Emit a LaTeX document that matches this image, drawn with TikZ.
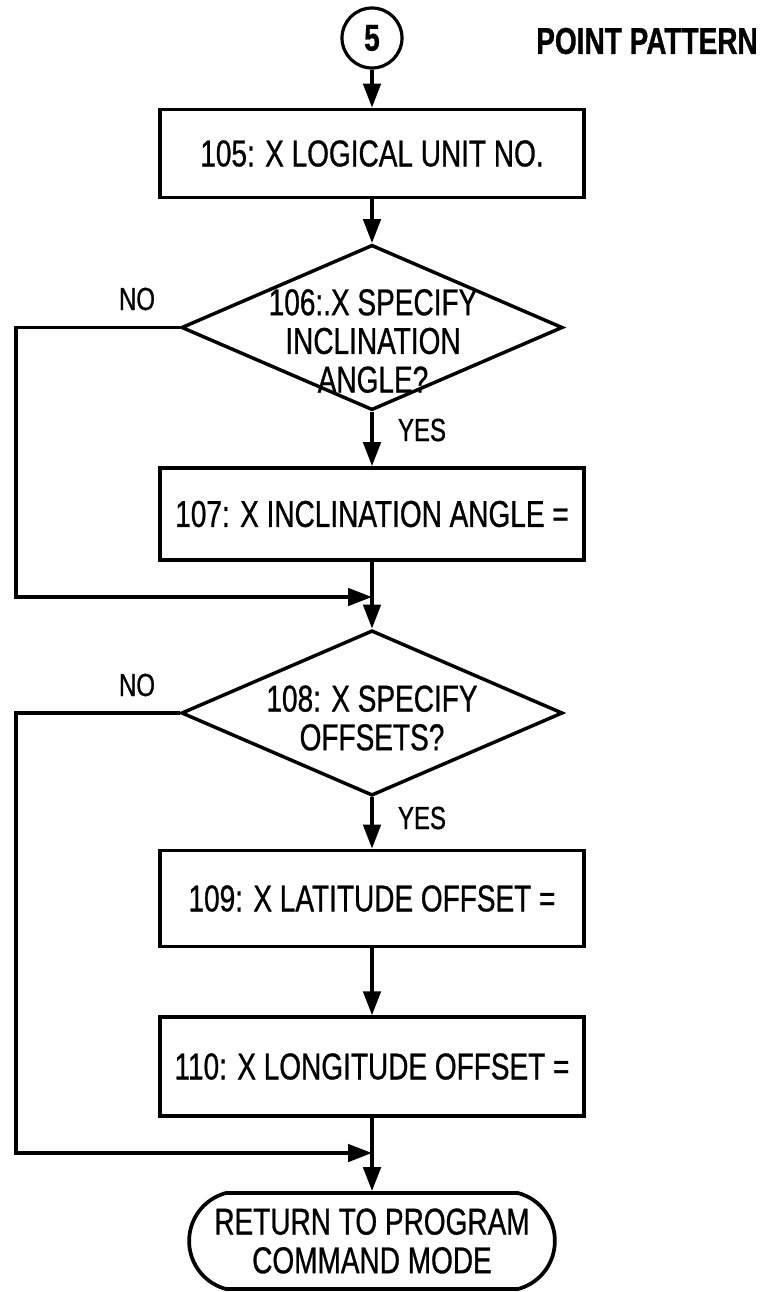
\documentclass[tikz,border=0pt]{standalone}
\usepackage{fontspec}
\setmainfont{Liberation Sans}[FakeStretch=0.75, FakeBold=0.8]
\usetikzlibrary{arrows.meta,shapes.geometric,shapes.misc}

\tikzset{
  every node/.style={font=\fontsize{28}{29}\selectfont},
  process/.style={draw, rectangle, line width=2.8pt, minimum width=318pt, minimum height=66pt, inner sep=0pt},
  decision/.style={draw, diamond, line width=2.6pt, minimum width=286pt, minimum height=124pt, inner sep=0pt},
  terminal/.style={draw, rounded rectangle, rounded rectangle arc length=150, line width=2.8pt, minimum width=281pt, minimum height=72pt, align=center},
  connector/.style={draw, circle, line width=2.4pt, minimum size=45pt, inner sep=0pt, font=\fontsize{28}{29}\selectfont\bfseries},
  txt/.style={align=center, inner sep=0pt},
  branch/.style={font=\fontsize{24}{26}\selectfont},
  flow/.style={line width=2.8pt, -{Triangle[length=18pt,width=13pt]}},
}

\begin{document}
\begin{tikzpicture}[x=0.75pt,y=-0.75pt]
    \useasboundingbox (0,0) rectangle (769,1292);
    % nodes
    \node[connector] (start) at (372,38) {5};
    \node[font=\fontsize{28}{30}\selectfont\bfseries] (title) at (647,41) {POINT PATTERN};
    \node[process] (unit) at (372,153.5) {105: X LOGICAL UNIT NO.};
    \node[decision] (incq) at (372,327.5) {};
    \node[txt] (incqtext) at (373,341) {106:.X SPECIFY\\INCLINATION\\ANGLE?};
    \node[process, minimum height=69pt] (incl) at (372,514) {107: X INCLINATION ANGLE =};
    \coordinate (join1) at (372,597);
    \node[decision] (offq) at (372,713) {};
    \node[txt] (offqtext) at (372,718) {108: X SPECIFY\\OFFSETS?};
    \node[process, minimum height=72pt] (lat) at (372,898.5) {109: X LATITUDE OFFSET =};
    \node[process, minimum height=74pt] (lon) at (372,1066.5) {110: X LONGITUDE OFFSET =};
    \coordinate (join2) at (372,1153);
    \node[terminal] (stop) at (372,1241) {RETURN TO PROGRAM\\COMMAND MODE};
    \coordinate (rail) at (16,0);
    % branch labels
    \node[branch] (no1) at (137,299) {NO};
    \node[branch] (yes1) at (422,430) {YES};
    \node[branch] (no2) at (137,685) {NO};
    \node[branch] (yes2) at (422,818) {YES};
    % connectors
    \draw[flow] (start) -- (unit);
    \draw[flow] (unit) -- (incq.north);
    \draw[flow] (incq.south) -- (incl);
    \draw[flow] (incl) -- (offq.north);
    \draw[flow] (incq.west) -- (incq.west -| rail) |- (join1);
    \draw[flow] (offq.south) -- (lat);
    \draw[flow] (lat) -- (lon);
    \draw[flow] (lon) -- (stop);
    \draw[flow] (offq.west) -- (offq.west -| rail) |- (join2);
\end{tikzpicture}
\end{document}
